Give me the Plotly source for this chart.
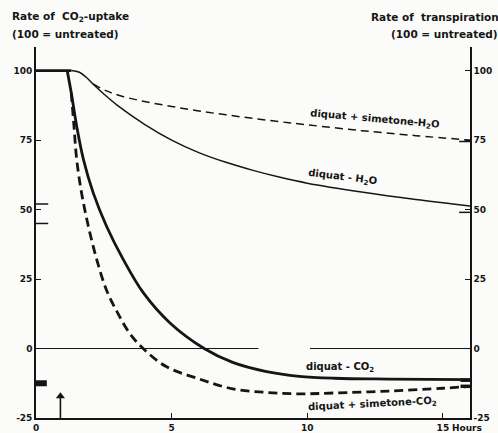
import plotly.graph_objects as go

# ---- data -------------------------------------------------------------
# untreated plateau shared by all four curves (hours, % of untreated)
plateau_h = [0, 1.3]
plateau = [100, 100]

# CO2 uptake, diquat alone (thick solid)
co2_diquat_h = [1.15, 1.3, 1.5, 1.75, 2.11, 2.6, 3.22, 3.96, 4.93, 6.2, 7.25, 8.5, 9.7, 11, 13, 16]
co2_diquat = [100, 92, 80, 68, 56, 44, 32, 20, 9.3, 0, -5, -8.3, -10, -10.7, -11, -11.2]

# CO2 uptake, diquat + simetone (thick dashed)
co2_simetone_h = [1.3, 1.4, 1.5, 1.68, 1.93, 2.24, 2.6, 3.0, 3.45, 3.95, 4.8, 6.03, 7.25, 8.5, 9.7, 11, 13, 15, 16]
co2_simetone = [92, 80, 68, 56, 44, 32, 21, 13, 5.5, 0, -6.5, -11, -14.5, -15.8, -16.3, -16, -15.3, -14.3, -13.6]

# transpiration, diquat alone (thin solid)
h2o_diquat_h = [1.3, 1.6, 1.85, 2.1, 2.5, 3, 4, 5, 6, 7, 8, 9, 10, 12, 14, 16]
h2o_diquat = [100, 99.4, 97.6, 95.2, 91.6, 87.5, 80.7, 75, 70.5, 67, 64.1, 61.6, 59.5, 56.3, 53.6, 51.3]

# transpiration, diquat + simetone (thin dashed)
h2o_simetone_h = [2.1, 2.6, 3.2, 4, 5, 6, 7, 8, 9, 10, 12, 14, 16]
h2o_simetone = [95.2, 92.7, 90.7, 88.9, 87.1, 85.5, 84.1, 82.8, 81.6, 80.5, 78.4, 76.6, 75]

# reference levels marked beside the axes
left_marks = [52, 45]
right_marks = [49, 74.5]
co2_end_marks = [-11.4, -13.6]
control_co2 = -12.5

# time of treatment (arrow from the time axis)
treatment_time = 0.9
arrow_y = [-25, -17.2]

y_ticks = [-25, 0, 25, 50, 75, 100]
y_ticklabels = ["-25", "0", "25", "50", "75", "100"]
x_ticks = [0, 5, 10, 15]
x_ticklabels = ["0", "5", "10", "15"]

# ---- styling ----------------------------------------------------------
INK = "#151515"
FONT = "DejaVu Sans"
THICK = 2.8
THIN = 1.5

fig = go.Figure()

def line(x, y, width, dash="solid", shape="spline", axis="y"):
    fig.add_trace(go.Scatter(
        x=x, y=y, mode="lines", yaxis=axis, hoverinfo="skip",
        line=dict(color=INK, width=width, dash=dash, shape=shape, smoothing=1.0),
        showlegend=False,
    ))

# zero reference line (drawn in two pieces)
line([0, 8.2], [0, 0], 1.0, shape="linear")
line([10.1, 16], [0, 0], 1.0, shape="linear")

# curves
line(plateau_h, plateau, THICK, shape="linear")
line(co2_diquat_h, co2_diquat, THICK)
line(co2_simetone_h, co2_simetone, THICK, dash="9px,5px")
line(h2o_diquat_h, h2o_diquat, THIN, axis="y2")
line(h2o_simetone_h, h2o_simetone, THIN, dash="8px,5px", axis="y2")

# short marks at the axes
for v in left_marks:
    line([0, 0.45], [v, v], THIN, shape="linear")
for v in right_marks:
    line([15.6, 16], [v, v], THIN, shape="linear", axis="y2")
for v in co2_end_marks:
    line([15.65, 16], [v, v], 3.5, shape="linear")
line([0, 0.4], [control_co2, control_co2], 6, shape="linear")

# treatment arrow: shaft plus head
line([treatment_time, treatment_time], arrow_y, 1.6, shape="linear")
fig.add_trace(go.Scatter(
    x=[treatment_time], y=[arrow_y[1]], mode="markers", hoverinfo="skip",
    marker=dict(symbol="triangle-up", size=8, color=INK), showlegend=False,
))

lab_font = dict(family=FONT, size=10, color=INK, weight="bold")

def label(text, x, y, angle=0, axis="y"):
    fig.add_annotation(
        x=x, y=y, xref="x", yref=axis, text=text, showarrow=False,
        textangle=angle, font=lab_font, xanchor="center", yanchor="middle",
    )

label("diquat + simetone-H<sub>2</sub>O", 12.5, 82.5, angle=5, axis="y2")
label("diquat - H<sub>2</sub>O", 11.3, 61.5, angle=7, axis="y2")
label("diquat - CO<sub>2</sub>", 11.2, -6.8)
label("diquat + simetone-CO<sub>2</sub>", 12.4, -20.3, angle=-3)

# axis titles
title_font = dict(family=FONT, size=10.5, color=INK, weight="bold")
fig.add_annotation(x=-0.06, y=1.08, xref="paper", yref="paper", xanchor="left",
                   yanchor="middle", showarrow=False, font=title_font,
                   text="Rate of  CO<sub>2</sub>-uptake")
fig.add_annotation(x=-0.06, y=1.034, xref="paper", yref="paper", xanchor="left",
                   yanchor="middle", showarrow=False, font=title_font,
                   text="(100 = untreated)")
fig.add_annotation(x=1.072, y=1.08, xref="paper", yref="paper", xanchor="right",
                   yanchor="middle", showarrow=False, font=title_font,
                   text="Rate of  transpiration")
fig.add_annotation(x=1.07, y=1.034, xref="paper", yref="paper", xanchor="right",
                   yanchor="middle", showarrow=False, font=title_font,
                   text="(100 = untreated)")
fig.add_annotation(x=15.25, y=-0.028, xref="x", yref="paper", xanchor="left",
                   yanchor="middle", showarrow=False,
                   font=dict(family=FONT, size=9, color=INK, weight="bold"),
                   text="Hours")

tick_font = dict(family=FONT, size=9, color=INK, weight="bold")
y_common = dict(
    range=[-25, 108.5], tickvals=y_ticks, ticktext=y_ticklabels,
    ticks="inside", ticklen=5, tickwidth=1.3, tickcolor=INK,
    showline=True, linecolor=INK, linewidth=1.6,
    showgrid=False, zeroline=False, tickfont=tick_font, automargin=False,
    fixedrange=True,
)

fig.update_layout(
    width=498, height=433,
    margin=dict(l=36, r=28, t=47, b=15, pad=0),
    paper_bgcolor="#fbfbf9", plot_bgcolor="#fbfbf9",
    xaxis=dict(
        range=[0, 16], tickvals=x_ticks, ticktext=x_ticklabels,
        ticks="inside", ticklen=5, tickwidth=1.3, tickcolor=INK,
        showline=True, linecolor=INK, linewidth=1.6,
        showgrid=False, zeroline=False, tickfont=tick_font, automargin=False,
        fixedrange=True,
    ),
    yaxis=dict(side="left", **y_common),
    yaxis2=dict(side="right", overlaying="y", **y_common),
    showlegend=False,
)

fig.write_html("out.html")
